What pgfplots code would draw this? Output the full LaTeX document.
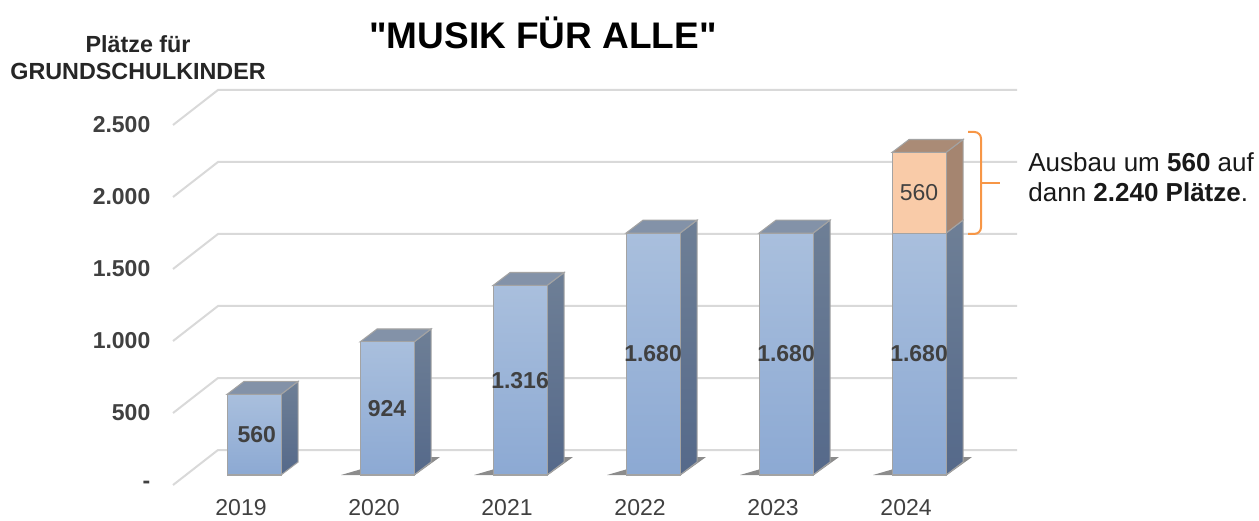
\documentclass[border=0pt]{standalone}
\usepackage{pgfplots}
\pgfplotsset{compat=1.18}
\usepackage{fontspec}
\setmainfont{Liberation Sans}
\newfontfamily\plainfont{Liberation Sans}
\definecolor{gridgray}{HTML}{D9D9D9}
\definecolor{frontTop}{HTML}{A9BFDD}
\definecolor{frontBot}{HTML}{8CA9D3}
\definecolor{sideTop}{HTML}{6E7F96}
\definecolor{sideBot}{HTML}{55698A}
\definecolor{topFace}{HTML}{8392A8}
\definecolor{orFront}{HTML}{F9CBA8}
\definecolor{orSide}{HTML}{A58570}
\definecolor{orTop}{HTML}{AA8B76}
\definecolor{edge}{HTML}{A3A3A3}
\definecolor{lbl}{HTML}{404040}
\definecolor{bracecol}{HTML}{F79646}
\newcommand\fs{\fontsize{17.25}{20.5}\selectfont}
\begin{document}
\begin{tikzpicture}
\begin{axis}[
  x=99.75pt, y=0.108pt,
  xmin=-0.609, xmax=5.737, ymin=-69.4, ymax=2673.6,
  clip=false,
  axis line style={draw=none},
  major tick length=0pt,
  tick style={draw=none},
  xtick={0,1,2,3,4,5},
  xticklabels={2019,2020,2021,2022,2023,2024},
  ytick={0,500,1000,1500,2000,2500},
  yticklabels={-,500,1.000,1.500,2.000,2.500},
  yticklabel style={font=\fs\bfseries, text=lbl, anchor=east, xshift=-13.5pt, yshift=-7.5pt},
  xticklabel style={font=\fs, text=lbl, anchor=north, xshift=-9.75pt, yshift=-7.5pt},
  side/.style={draw=edge, line width=0.8pt, top color=sideTop, bottom color=sideBot},
  topf/.style={draw=edge, line width=0.8pt, fill=topFace},
  shadow/.style={draw=none, fill=black, fill opacity=0.45},
]
% back wall grid lines with diagonal floor connectors
\addplot[gridgray, line width=1.5pt] coordinates {(-0.609,-69.4) (-0.271,173.6) (5.737,173.6)};
\addplot[gridgray, line width=1.5pt] coordinates {(-0.609,430.6) (-0.271,673.6) (5.737,673.6)};
\addplot[gridgray, line width=1.5pt] coordinates {(-0.609,930.6) (-0.271,1173.6) (5.737,1173.6)};
\addplot[gridgray, line width=1.5pt] coordinates {(-0.609,1430.6) (-0.271,1673.6) (5.737,1673.6)};
\addplot[gridgray, line width=1.5pt] coordinates {(-0.609,1930.6) (-0.271,2173.6) (5.737,2173.6)};
\addplot[gridgray, line width=1.5pt] coordinates {(-0.609,2430.6) (-0.271,2673.6) (5.737,2673.6)};

% shadows
\addplot[shadow] coordinates {(0.654,0) (1.211,0) (1.398,125) (1.120,125)} -- cycle;
\addplot[shadow] coordinates {(1.654,0) (2.211,0) (2.398,125) (2.120,125)} -- cycle;
\addplot[shadow] coordinates {(2.654,0) (3.211,0) (3.398,125) (3.120,125)} -- cycle;
\addplot[shadow] coordinates {(3.654,0) (4.211,0) (4.398,125) (4.120,125)} -- cycle;
\addplot[shadow] coordinates {(4.654,0) (5.211,0) (5.398,125) (5.120,125)} -- cycle;

% side faces
\addplot[side] coordinates {(0.203,0) (0.331,90) (0.331,650) (0.203,560)} -- cycle;
\addplot[side] coordinates {(1.203,0) (1.331,90) (1.331,1014) (1.203,924)} -- cycle;
\addplot[side] coordinates {(2.203,0) (2.331,90) (2.331,1406) (2.203,1316)} -- cycle;
\addplot[side] coordinates {(3.203,0) (3.331,90) (3.331,1770) (3.203,1680)} -- cycle;
\addplot[side] coordinates {(4.203,0) (4.331,90) (4.331,1770) (4.203,1680)} -- cycle;
\addplot[side] coordinates {(5.203,0) (5.331,90) (5.331,1770) (5.203,1680)} -- cycle;
\addplot[draw=edge, line width=0.8pt, fill=orSide] coordinates {(5.203,1680) (5.331,1770) (5.331,2330) (5.203,2240)} -- cycle;

% top faces
\addplot[topf] coordinates {(-0.203,560) (-0.075,650) (0.331,650) (0.203,560)} -- cycle;
\addplot[topf] coordinates {(0.797,924) (0.925,1014) (1.331,1014) (1.203,924)} -- cycle;
\addplot[topf] coordinates {(1.797,1316) (1.925,1406) (2.331,1406) (2.203,1316)} -- cycle;
\addplot[topf] coordinates {(2.797,1680) (2.925,1770) (3.331,1770) (3.203,1680)} -- cycle;
\addplot[topf] coordinates {(3.797,1680) (3.925,1770) (4.331,1770) (4.203,1680)} -- cycle;
\addplot[draw=edge, line width=0.8pt, fill=orTop] coordinates {(4.797,2240) (4.925,2330) (5.331,2330) (5.203,2240)} -- cycle;

% front faces (bars)
\addplot[ybar, bar width=0.406, bar shift=0pt, draw=edge, line width=0.8pt, top color=frontTop, bottom color=frontBot] coordinates {(0,560)};
\addplot[ybar, bar width=0.406, bar shift=0pt, draw=edge, line width=0.8pt, top color=frontTop, bottom color=frontBot] coordinates {(1,924)};
\addplot[ybar, bar width=0.406, bar shift=0pt, draw=edge, line width=0.8pt, top color=frontTop, bottom color=frontBot] coordinates {(2,1316)};
\addplot[ybar, bar width=0.406, bar shift=0pt, draw=edge, line width=0.8pt, top color=frontTop, bottom color=frontBot] coordinates {(3,1680)};
\addplot[ybar, bar width=0.406, bar shift=0pt, draw=edge, line width=0.8pt, top color=frontTop, bottom color=frontBot] coordinates {(4,1680)};
\addplot[ybar, bar width=0.406, bar shift=0pt, draw=edge, line width=0.8pt, top color=frontTop, bottom color=frontBot] coordinates {(5,1680)};
\addplot[draw=edge, line width=0.8pt, fill=orFront] coordinates {(4.797,1680) (5.203,1680) (5.203,2240) (4.797,2240)} -- cycle;

% value labels
\addplot[only marks, mark=none, nodes near coords, point meta=explicit symbolic,
  every node near coord/.append style={anchor=center, font=\fs\bfseries, text=lbl}]
  table[meta=label] {
x y label
0.02 280 560
1 462 924
2 658 1.316
3 840 1.680
4 840 1.680
5 840 1.680
};
\addplot[only marks, mark=none, nodes near coords, point meta=explicit symbolic,
  every node near coord/.append style={anchor=center, font=\fs, text=lbl}]
  table[meta=label] {
x y label
5 1960 560
};

% bracket and annotation
\draw[bracecol, line width=1.5pt, rounded corners=5pt]
  (axis cs:5.368,2382) -- (axis cs:5.466,2382) -- (axis cs:5.466,2028) -- (axis cs:5.466,1674) -- (axis cs:5.368,1674);
\draw[bracecol, line width=1.5pt] (axis cs:5.466,2028) -- (axis cs:5.609,2028);
\node[anchor=west, align=left, inner sep=0pt, font=\fontsize{19.5}{22.5}\selectfont, text=black!90]
  at (axis cs:5.820,2069) {Ausbau um \textbf{560} auf\\dann \textbf{2.240 Plätze}.};

% title and axis title
\node[font=\plainfont\fontsize{27.75}{32}\selectfont\bfseries, text=black] at (axis cs:2.173,3069) {"MUSIK FÜR ALLE"};
\node[align=center, font=\fontsize{17.5}{20.25}\selectfont\bfseries, text=black!85] at (axis cs:-0.872,2896) {Plätze für\\GRUNDSCHULKINDER};

\coordinate (bbSW) at (axis cs:-1.910,-319.4);
\coordinate (bbNE) at (axis cs:7.556,3298.6);
\end{axis}
\pgfresetboundingbox
\path[use as bounding box] (bbSW) rectangle (bbNE);
\end{tikzpicture}
\end{document}
